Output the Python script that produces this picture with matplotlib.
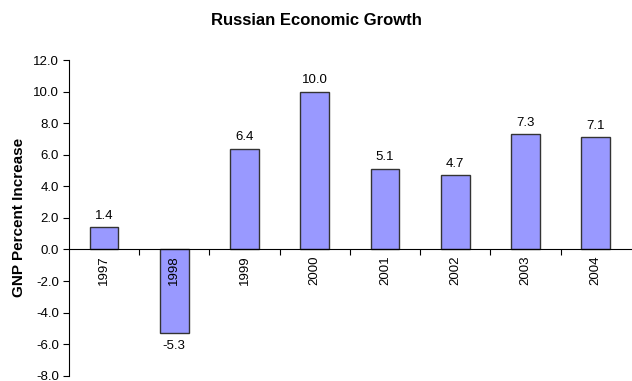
import matplotlib
matplotlib.use("Agg")
import matplotlib.pyplot as plt
import numpy as np

plt.rcParams['font.family'] = ['Liberation Sans', 'DejaVu Sans']

years = ['1997', '1998', '1999', '2000', '2001', '2002', '2003', '2004']
growth = [1.4, -5.3, 6.4, 10.0, 5.1, 4.7, 7.3, 7.1]
yticks = [-8.0, -6.0, -4.0, -2.0, 0.0, 2.0, 4.0, 6.0, 8.0, 10.0, 12.0]

fig = plt.figure(figsize=(6.32, 3.81), dpi=100)
ax = fig.add_axes([0.109, 0.014, 0.889, 0.828])

x = np.arange(len(years)) + 0.5
ax.bar(x, growth, width=0.41, color='#9999FF', edgecolor='#333333', linewidth=1.0)

ax.set_xlim(0, len(years))
ax.set_ylim(-8, 12)
ax.set_yticks(yticks)
ax.set_yticklabels([f'{v:.1f}' for v in yticks], fontsize=9.5)
ax.tick_params(axis='y', direction='out', length=4, width=0.8, pad=3)

ax.spines['top'].set_visible(False)
ax.spines['right'].set_visible(False)
ax.spines['bottom'].set_position(('data', 0))
ax.spines['left'].set_linewidth(0.8)
ax.spines['bottom'].set_linewidth(0.8)

ax.set_xticks(np.arange(1, len(years)))
ax.set_xticklabels([])
ax.tick_params(axis='x', which='major', direction='out', length=4, width=0.8)
ax.set_xticks(x, minor=True)
ax.set_xticklabels(years, minor=True, rotation=90, fontsize=9.5)
ax.tick_params(axis='x', which='minor', length=0, pad=4)

for xi, v in zip(x, growth):
    if v >= 0:
        ax.annotate(f'{v:.1f}', (xi, v), xytext=(0, 4), textcoords='offset points',
                    ha='center', va='bottom', fontsize=9.5)
    else:
        ax.annotate(f'{v:.1f}', (xi, v), xytext=(0, -5), textcoords='offset points',
                    ha='center', va='top', fontsize=9.5)

ax.set_ylabel('GNP Percent Increase', fontsize=11, fontweight='bold', labelpad=5)
fig.suptitle('Russian Economic Growth', fontsize=12, fontweight='bold', y=0.965)

fig.savefig('out.png', dpi=100)
